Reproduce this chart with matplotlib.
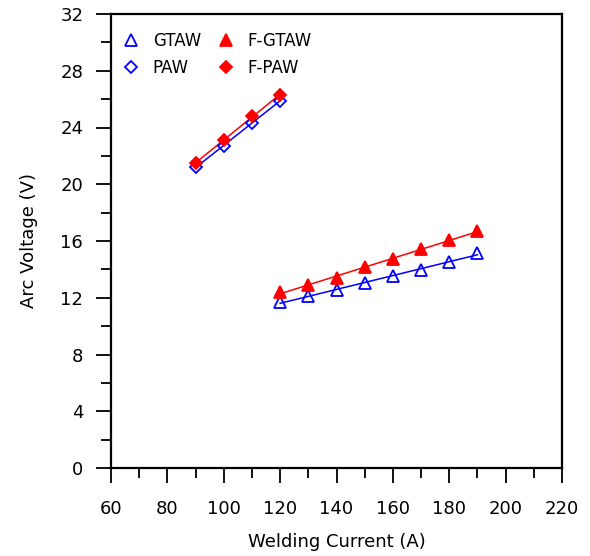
import numpy as np
import matplotlib.pyplot as plt
from matplotlib.ticker import MultipleLocator

plt.rcParams['font.family'] = ['DejaVu Sans']

# welding current (A)
current_gtaw = [120, 130, 140, 150, 160, 170, 180, 190]
current_paw = [90, 100, 110, 120]

# arc voltage (V)
volt_gtaw = [11.7, 12.1, 12.55, 13.05, 13.5, 13.95, 14.55, 15.15]
volt_fgtaw = [12.4, 12.9, 13.4, 14.15, 14.7, 15.45, 16.05, 16.7]
volt_paw = [21.2, 22.7, 24.3, 25.9]
volt_fpaw = [21.5, 23.1, 24.8, 26.3]

series = [
    ("GTAW", current_gtaw, volt_gtaw, "blue", "^", "none", 8),
    ("PAW", current_paw, volt_paw, "blue", "D", "none", 6),
    ("F-GTAW", current_gtaw, volt_fgtaw, "red", "^", "red", 8),
    ("F-PAW", current_paw, volt_fpaw, "red", "D", "red", 6),
]

fig = plt.figure(figsize=(5.9, 5.56), dpi=100)
ax = fig.add_axes([111 / 590, 88 / 556, 451 / 590, 454 / 556])

for name, x, y, col, mk, fc, ms in series:
    # least-squares line through each data set
    k, b = np.polyfit(x, y, 1)
    xs = np.array([min(x), max(x)])
    ax.plot(xs, k * xs + b, color=col, lw=1.1, zorder=2)
    ax.plot(x, y, ls="none", marker=mk, ms=ms, mfc=fc, mec=col, mew=1.3,
            label=name, zorder=3)

ax.set_xlim(60, 220)
ax.set_ylim(0, 32)
ax.xaxis.set_major_locator(MultipleLocator(20))
ax.xaxis.set_minor_locator(MultipleLocator(10))
ax.yaxis.set_major_locator(MultipleLocator(4))
ax.yaxis.set_minor_locator(MultipleLocator(2))
ax.tick_params(which="both", direction="out", width=1.3, labelsize=13,
               top=False, right=False)
ax.tick_params(which="major", length=11)
ax.tick_params(which="minor", length=7)
ax.tick_params(axis="x", pad=12)
ax.tick_params(axis="y", pad=9)
for sp in ax.spines.values():
    sp.set_linewidth(1.6)

ax.set_xlabel("Welding Current (A)", fontsize=13, labelpad=11)
ax.set_ylabel("Arc Voltage (V)", fontsize=13, labelpad=16)

handles, labels = ax.get_legend_handles_labels()
ax.legend(handles, labels, loc="upper left", bbox_to_anchor=(0.0, 1 - 3 / 454),
          ncol=2, frameon=False, fontsize=12, handlelength=0.6,
          handletextpad=1.0, columnspacing=1.2, labelspacing=0.52,
          borderaxespad=0.5)

fig.savefig("out.png", dpi=100)
